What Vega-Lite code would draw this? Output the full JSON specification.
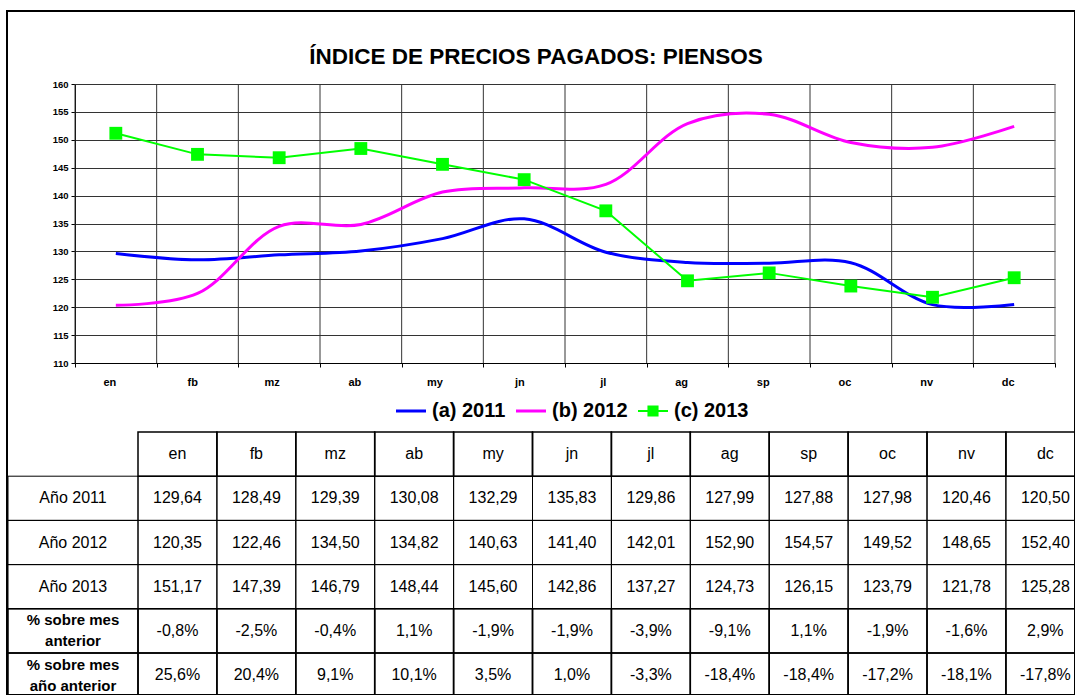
{
  "$schema": "https://vega.github.io/schema/vega-lite/v6.json",
  "width": 1068,
  "height": 684,
  "autosize": {"type": "none"},
  "padding": {"left": 7, "top": 11, "right": 0, "bottom": 0},
  "background": "white",
  "config": {
    "font": "Liberation Sans",
    "view": {"stroke": "black", "strokeWidth": 2},
    "locale": {"number": {"decimal": ",", "thousands": ".", "grouping": [3], "currency": ["", " €"], "minus": "-"}}
  },
  "title": {"text": "ÍNDICE DE PRECIOS PAGADOS: PIENSOS", "fontSize": 22.5, "fontWeight": "bold", "color": "black", "anchor": "middle", "frame": "group", "baseline": "alphabetic", "offset": -75, "dx": -5},
  "datasets": {
    "indices": [
      {"mes": "en", "serie": "(a) 2011", "fila": "Año 2011", "valor": 129.64},
      {"mes": "fb", "serie": "(a) 2011", "fila": "Año 2011", "valor": 128.49},
      {"mes": "mz", "serie": "(a) 2011", "fila": "Año 2011", "valor": 129.39},
      {"mes": "ab", "serie": "(a) 2011", "fila": "Año 2011", "valor": 130.08},
      {"mes": "my", "serie": "(a) 2011", "fila": "Año 2011", "valor": 132.29},
      {"mes": "jn", "serie": "(a) 2011", "fila": "Año 2011", "valor": 135.83},
      {"mes": "jl", "serie": "(a) 2011", "fila": "Año 2011", "valor": 129.86},
      {"mes": "ag", "serie": "(a) 2011", "fila": "Año 2011", "valor": 127.99},
      {"mes": "sp", "serie": "(a) 2011", "fila": "Año 2011", "valor": 127.88},
      {"mes": "oc", "serie": "(a) 2011", "fila": "Año 2011", "valor": 127.98},
      {"mes": "nv", "serie": "(a) 2011", "fila": "Año 2011", "valor": 120.46},
      {"mes": "dc", "serie": "(a) 2011", "fila": "Año 2011", "valor": 120.50},
      {"mes": "en", "serie": "(b) 2012", "fila": "Año 2012", "valor": 120.35},
      {"mes": "fb", "serie": "(b) 2012", "fila": "Año 2012", "valor": 122.46},
      {"mes": "mz", "serie": "(b) 2012", "fila": "Año 2012", "valor": 134.50},
      {"mes": "ab", "serie": "(b) 2012", "fila": "Año 2012", "valor": 134.82},
      {"mes": "my", "serie": "(b) 2012", "fila": "Año 2012", "valor": 140.63},
      {"mes": "jn", "serie": "(b) 2012", "fila": "Año 2012", "valor": 141.40},
      {"mes": "jl", "serie": "(b) 2012", "fila": "Año 2012", "valor": 142.01},
      {"mes": "ag", "serie": "(b) 2012", "fila": "Año 2012", "valor": 152.90},
      {"mes": "sp", "serie": "(b) 2012", "fila": "Año 2012", "valor": 154.57},
      {"mes": "oc", "serie": "(b) 2012", "fila": "Año 2012", "valor": 149.52},
      {"mes": "nv", "serie": "(b) 2012", "fila": "Año 2012", "valor": 148.65},
      {"mes": "dc", "serie": "(b) 2012", "fila": "Año 2012", "valor": 152.40},
      {"mes": "en", "serie": "(c) 2013", "fila": "Año 2013", "valor": 151.17},
      {"mes": "fb", "serie": "(c) 2013", "fila": "Año 2013", "valor": 147.39},
      {"mes": "mz", "serie": "(c) 2013", "fila": "Año 2013", "valor": 146.79},
      {"mes": "ab", "serie": "(c) 2013", "fila": "Año 2013", "valor": 148.44},
      {"mes": "my", "serie": "(c) 2013", "fila": "Año 2013", "valor": 145.60},
      {"mes": "jn", "serie": "(c) 2013", "fila": "Año 2013", "valor": 142.86},
      {"mes": "jl", "serie": "(c) 2013", "fila": "Año 2013", "valor": 137.27},
      {"mes": "ag", "serie": "(c) 2013", "fila": "Año 2013", "valor": 124.73},
      {"mes": "sp", "serie": "(c) 2013", "fila": "Año 2013", "valor": 126.15},
      {"mes": "oc", "serie": "(c) 2013", "fila": "Año 2013", "valor": 123.79},
      {"mes": "nv", "serie": "(c) 2013", "fila": "Año 2013", "valor": 121.78},
      {"mes": "dc", "serie": "(c) 2013", "fila": "Año 2013", "valor": 125.28}
    ],
    "variacion": [
      {"mes": "en", "fila": "% sobre mes\nanterior", "valor": -0.008},
      {"mes": "fb", "fila": "% sobre mes\nanterior", "valor": -0.025},
      {"mes": "mz", "fila": "% sobre mes\nanterior", "valor": -0.004},
      {"mes": "ab", "fila": "% sobre mes\nanterior", "valor": 0.011},
      {"mes": "my", "fila": "% sobre mes\nanterior", "valor": -0.019},
      {"mes": "jn", "fila": "% sobre mes\nanterior", "valor": -0.019},
      {"mes": "jl", "fila": "% sobre mes\nanterior", "valor": -0.039},
      {"mes": "ag", "fila": "% sobre mes\nanterior", "valor": -0.091},
      {"mes": "sp", "fila": "% sobre mes\nanterior", "valor": 0.011},
      {"mes": "oc", "fila": "% sobre mes\nanterior", "valor": -0.019},
      {"mes": "nv", "fila": "% sobre mes\nanterior", "valor": -0.016},
      {"mes": "dc", "fila": "% sobre mes\nanterior", "valor": 0.029},
      {"mes": "en", "fila": "% sobre mes\naño anterior", "valor": 0.256},
      {"mes": "fb", "fila": "% sobre mes\naño anterior", "valor": 0.204},
      {"mes": "mz", "fila": "% sobre mes\naño anterior", "valor": 0.091},
      {"mes": "ab", "fila": "% sobre mes\naño anterior", "valor": 0.101},
      {"mes": "my", "fila": "% sobre mes\naño anterior", "valor": 0.035},
      {"mes": "jn", "fila": "% sobre mes\naño anterior", "valor": 0.010},
      {"mes": "jl", "fila": "% sobre mes\naño anterior", "valor": -0.033},
      {"mes": "ag", "fila": "% sobre mes\naño anterior", "valor": -0.184},
      {"mes": "sp", "fila": "% sobre mes\naño anterior", "valor": -0.184},
      {"mes": "oc", "fila": "% sobre mes\naño anterior", "valor": -0.172},
      {"mes": "nv", "fila": "% sobre mes\naño anterior", "valor": -0.181},
      {"mes": "dc", "fila": "% sobre mes\naño anterior", "valor": -0.178}
    ]
  },
  "layer": [
    {
      "layer": [
        {
          "data": {"name": "indices"},
          "transform": [{"filter": "datum.serie === '(a) 2011'"}],
          "mark": {"type": "rule", "color": "#333", "strokeWidth": 1},
          "encoding": {
            "x": {"field": "mes", "type": "nominal", "sort": ["en","fb","mz","ab","my","jn","jl","ag","sp","oc","nv","dc"], "bandPosition": 0, "scale": {"range": [68, 1048], "paddingInner": 0, "paddingOuter": 0}},
            "y": {"datum": 110, "type": "quantitative", "scale": {"domain": [110, 160], "range": [352, 73], "nice": false, "zero": false}},
            "y2": {"datum": 160}
          }
        },
        {
          "data": {"name": "indices"},
          "transform": [{"filter": "datum.serie === '(a) 2011' && datum.mes === 'dc'"}],
          "mark": {"type": "rule", "color": "#666", "strokeWidth": 1},
          "encoding": {
            "x": {"field": "mes", "type": "nominal", "sort": ["en","fb","mz","ab","my","jn","jl","ag","sp","oc","nv","dc"], "bandPosition": 1},
            "y": {"datum": 110, "type": "quantitative"},
            "y2": {"datum": 160}
          }
        },
        {
          "data": {"name": "indices"},
          "transform": [{"filter": "datum.serie !== '(c) 2013'"}],
          "mark": {"type": "line", "interpolate": "catmull-rom", "strokeWidth": 3},
          "encoding": {
            "x": {"field": "mes", "type": "nominal", "sort": ["en","fb","mz","ab","my","jn","jl","ag","sp","oc","nv","dc"],
              "axis": {"orient": "bottom", "offset": -332, "title": null, "tickBand": "extent", "grid": false, "labelAngle": 0, "labelFontSize": 11, "labelFontWeight": "bold", "labelColor": "black", "labelPadding": 15, "tickSize": 4, "tickColor": "black", "domainColor": "black"}},
            "y": {"field": "valor", "type": "quantitative",
              "axis": {"orient": "left", "offset": -68, "title": null, "values": [110,115,120,125,130,135,140,145,150,155,160], "grid": true, "gridColor": "#333", "gridOpacity": 1, "domainColor": "black", "tickColor": "black", "tickSize": 4, "labelFontSize": 9.5, "labelFontWeight": "bold", "labelColor": "black", "labelPadding": 3}},
            "color": {"field": "serie", "type": "nominal",
              "scale": {"domain": ["(a) 2011", "(b) 2012", "(c) 2013"], "range": ["#0000FF", "#FF00FF", "#00FF00"]},
              "legend": {"orient": "none", "legendX": 389, "legendY": 385, "direction": "horizontal", "title": null, "padding": 0, "labelFontSize": 20, "labelFontWeight": "bold", "labelColor": "black", "symbolSize": 900, "labelOffset": 6, "columnPadding": 10,
                "encode": {"symbols": {"update": {
                  "shape": {"signal": "datum.value === '(c) 2013' ? 'M-1,-0.07L1,-0.07L1,0.07L-1,0.07Z M-0.37,-0.37L0.37,-0.37L0.37,0.37L-0.37,0.37Z' : 'M-1,-0.1L1,-0.1L1,0.1L-1,0.1Z'"},
                  "fill": {"scale": "color", "field": "value"},
                  "fillOpacity": {"value": 1},
                  "stroke": {"value": "transparent"},
                  "strokeWidth": {"value": 0},
                  "opacity": {"value": 1}
                }}}}}
          }
        },
        {
          "data": {"name": "indices"},
          "transform": [{"filter": "datum.serie === '(c) 2013'"}],
          "mark": {"type": "line", "strokeWidth": 2},
          "encoding": {
            "x": {"field": "mes", "type": "nominal", "sort": ["en","fb","mz","ab","my","jn","jl","ag","sp","oc","nv","dc"]},
            "y": {"field": "valor", "type": "quantitative"},
            "color": {"field": "serie", "type": "nominal", "legend": null}
          }
        },
        {
          "data": {"name": "indices"},
          "transform": [{"filter": "datum.serie === '(c) 2013'"}],
          "mark": {"type": "point", "shape": "square", "filled": true, "size": 165, "opacity": 1},
          "encoding": {
            "x": {"field": "mes", "type": "nominal", "sort": ["en","fb","mz","ab","my","jn","jl","ag","sp","oc","nv","dc"]},
            "y": {"field": "valor", "type": "quantitative"},
            "color": {"field": "serie", "type": "nominal", "legend": null}
          }
        }
      ]
    },
    {
      "layer": [
        {
          "data": {"name": "indices"},
          "transform": [{"filter": "datum.serie === '(a) 2011'"}],
          "mark": {"type": "rect", "filled": false, "stroke": "black", "strokeWidth": 1.5},
          "encoding": {
            "x": {"field": "mes", "type": "nominal", "scale": {"domain": ["en","fb","mz","ab","my","jn","jl","ag","sp","oc","nv","dc"], "range": [131, 1077.8], "paddingInner": 0, "paddingOuter": 0}, "axis": null},
            "y": {"datum": "cab", "type": "nominal", "scale": {"domain": ["cab", "Año 2011", "Año 2012", "Año 2013", "% sobre mes\nanterior", "% sobre mes\naño anterior"], "range": [421, 686.2], "paddingInner": 0, "paddingOuter": 0}, "axis": null}
          }
        },
        {
          "data": {"name": "indices"},
          "transform": [{"filter": "datum.serie === '(a) 2011'"}],
          "mark": {"type": "text", "fontSize": 16, "color": "black"},
          "encoding": {
            "x": {"field": "mes", "type": "nominal", "axis": null},
            "y": {"datum": "cab", "type": "nominal", "axis": null},
            "text": {"field": "mes", "type": "nominal"}
          }
        },
        {
          "data": {"name": "indices"},
          "mark": {"type": "rect", "filled": false, "stroke": "black", "strokeWidth": 1},
          "encoding": {
            "x": {"field": "mes", "type": "nominal", "axis": null},
            "y": {"field": "fila", "type": "nominal", "axis": null}
          }
        },
        {
          "data": {"name": "indices"},
          "mark": {"type": "text", "fontSize": 16, "color": "black"},
          "encoding": {
            "x": {"field": "mes", "type": "nominal", "axis": null},
            "y": {"field": "fila", "type": "nominal", "axis": null},
            "text": {"field": "valor", "type": "quantitative", "format": ".2f"}
          }
        },
        {
          "data": {"name": "variacion"},
          "mark": {"type": "rect", "filled": false, "stroke": "black", "strokeWidth": 1.5},
          "encoding": {
            "x": {"field": "mes", "type": "nominal", "axis": null},
            "y": {"field": "fila", "type": "nominal", "axis": null}
          }
        },
        {
          "data": {"name": "variacion"},
          "mark": {"type": "text", "fontSize": 16, "color": "black"},
          "encoding": {
            "x": {"field": "mes", "type": "nominal", "axis": null},
            "y": {"field": "fila", "type": "nominal", "axis": null},
            "text": {"field": "valor", "type": "quantitative", "format": ".1%"}
          }
        }
      ]
    },
    {
      "layer": [
        {
          "data": {"name": "indices"},
          "transform": [{"filter": "datum.mes === 'en'"}],
          "mark": {"type": "rect", "filled": false, "stroke": "black", "strokeWidth": 1},
          "encoding": {
            "x": {"datum": "lbl", "type": "nominal", "scale": {"domain": ["lbl"], "range": [1, 131], "paddingInner": 0, "paddingOuter": 0}, "axis": null},
            "y": {"field": "fila", "type": "nominal", "scale": {"domain": ["cab", "Año 2011", "Año 2012", "Año 2013", "% sobre mes\nanterior", "% sobre mes\naño anterior"], "range": [421, 686.2], "paddingInner": 0, "paddingOuter": 0}, "axis": null}
          }
        },
        {
          "data": {"name": "indices"},
          "transform": [{"filter": "datum.mes === 'en'"}],
          "mark": {"type": "text", "fontSize": 16, "color": "black"},
          "encoding": {
            "x": {"datum": "lbl", "type": "nominal", "axis": null},
            "y": {"field": "fila", "type": "nominal", "axis": null},
            "text": {"field": "fila", "type": "nominal"}
          }
        },
        {
          "data": {"name": "variacion"},
          "transform": [{"filter": "datum.mes === 'en'"}],
          "mark": {"type": "rect", "filled": false, "stroke": "black", "strokeWidth": 1.5},
          "encoding": {
            "x": {"datum": "lbl", "type": "nominal", "axis": null},
            "y": {"field": "fila", "type": "nominal", "axis": null}
          }
        },
        {
          "data": {"name": "variacion"},
          "transform": [{"filter": "datum.mes === 'en'"}],
          "mark": {"type": "text", "fontSize": 15, "fontWeight": "bold", "color": "black", "lineBreak": "\n", "lineHeight": 21, "dy": -10.5},
          "encoding": {
            "x": {"datum": "lbl", "type": "nominal", "axis": null},
            "y": {"field": "fila", "type": "nominal", "axis": null},
            "text": {"field": "fila", "type": "nominal"}
          }
        }
      ]
    }
  ],
  "resolve": {"scale": {"x": "independent", "y": "independent"}}
}
